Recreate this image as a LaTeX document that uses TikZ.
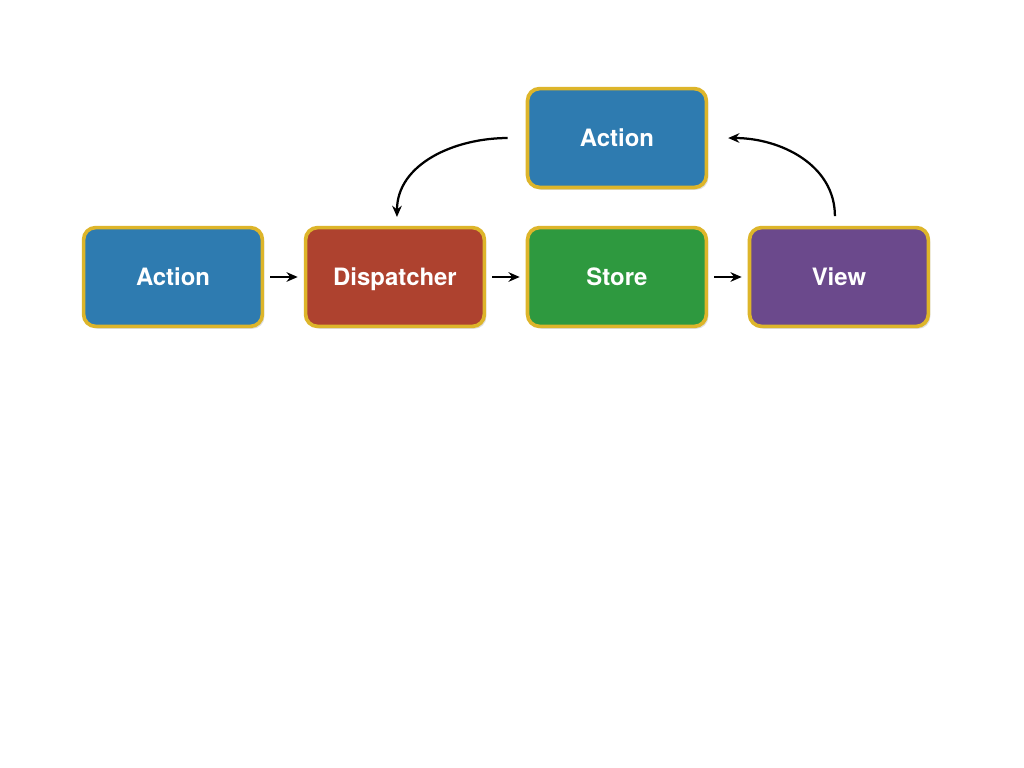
\documentclass[tikz,border=0pt]{standalone}
\usepackage{fontspec}
\setmainfont{TeX Gyre Heros}
\usetikzlibrary{positioning, arrows.meta, shadows}
\definecolor{actblue}{HTML}{2E7BB0}
\definecolor{dispred}{HTML}{AE422F}
\definecolor{storegreen}{HTML}{2E993F}
\definecolor{viewpurple}{HTML}{6B498C}
\definecolor{rimgold}{HTML}{DDB52A}
\tikzset{
    >={Stealth[length=0.28cm, width=0.24cm]},
    node distance = 0.988cm,
    stage/.style={draw=rimgold, line width=2.6pt, rounded corners=0.3cm,
        minimum width=4.47cm, minimum height=2.47cm,
        text height=12.2pt, text depth=0pt,
        text=white, font=\fontsize{17}{20}\selectfont\bfseries,
        drop shadow={shadow xshift=0.05cm, shadow yshift=-0.06cm, opacity=0.25}},
    flow/.style={->, line width=1.6pt, shorten <=0.15cm, shorten >=0.15cm},
    loopback/.style={->, line width=1.6pt}
}
\begin{document}
\begin{tikzpicture}
    \useasboundingbox[fill=white] (0,0) rectangle (25.6,-19.2);
    % main row
    \node[stage, fill=actblue] (act) at (4.325,-6.925) {Action};
    \node[stage, fill=dispred, right=of act] (disp) {Dispatcher};
    \node[stage, fill=storegreen, right=of disp] (store) {Store};
    \node[stage, fill=viewpurple, right=of store] (view) {View};
    % feedback
    \node[stage, fill=actblue, above=0.913cm of store] (act2) {Action};
    \draw[flow] (act) -- (disp);
    \draw[flow] (disp) -- (store);
    \draw[flow] (store) -- (view);
    \draw[loopback] ([xshift=-0.45cm]act2.west) to[out=180, in=90] ([xshift=0.05cm, yshift=0.22cm]disp.north);
    \draw[loopback] ([xshift=-0.1cm, yshift=0.24cm]view.north) to[out=90, in=0] ([xshift=0.5cm]act2.east);
\end{tikzpicture}
\end{document}
